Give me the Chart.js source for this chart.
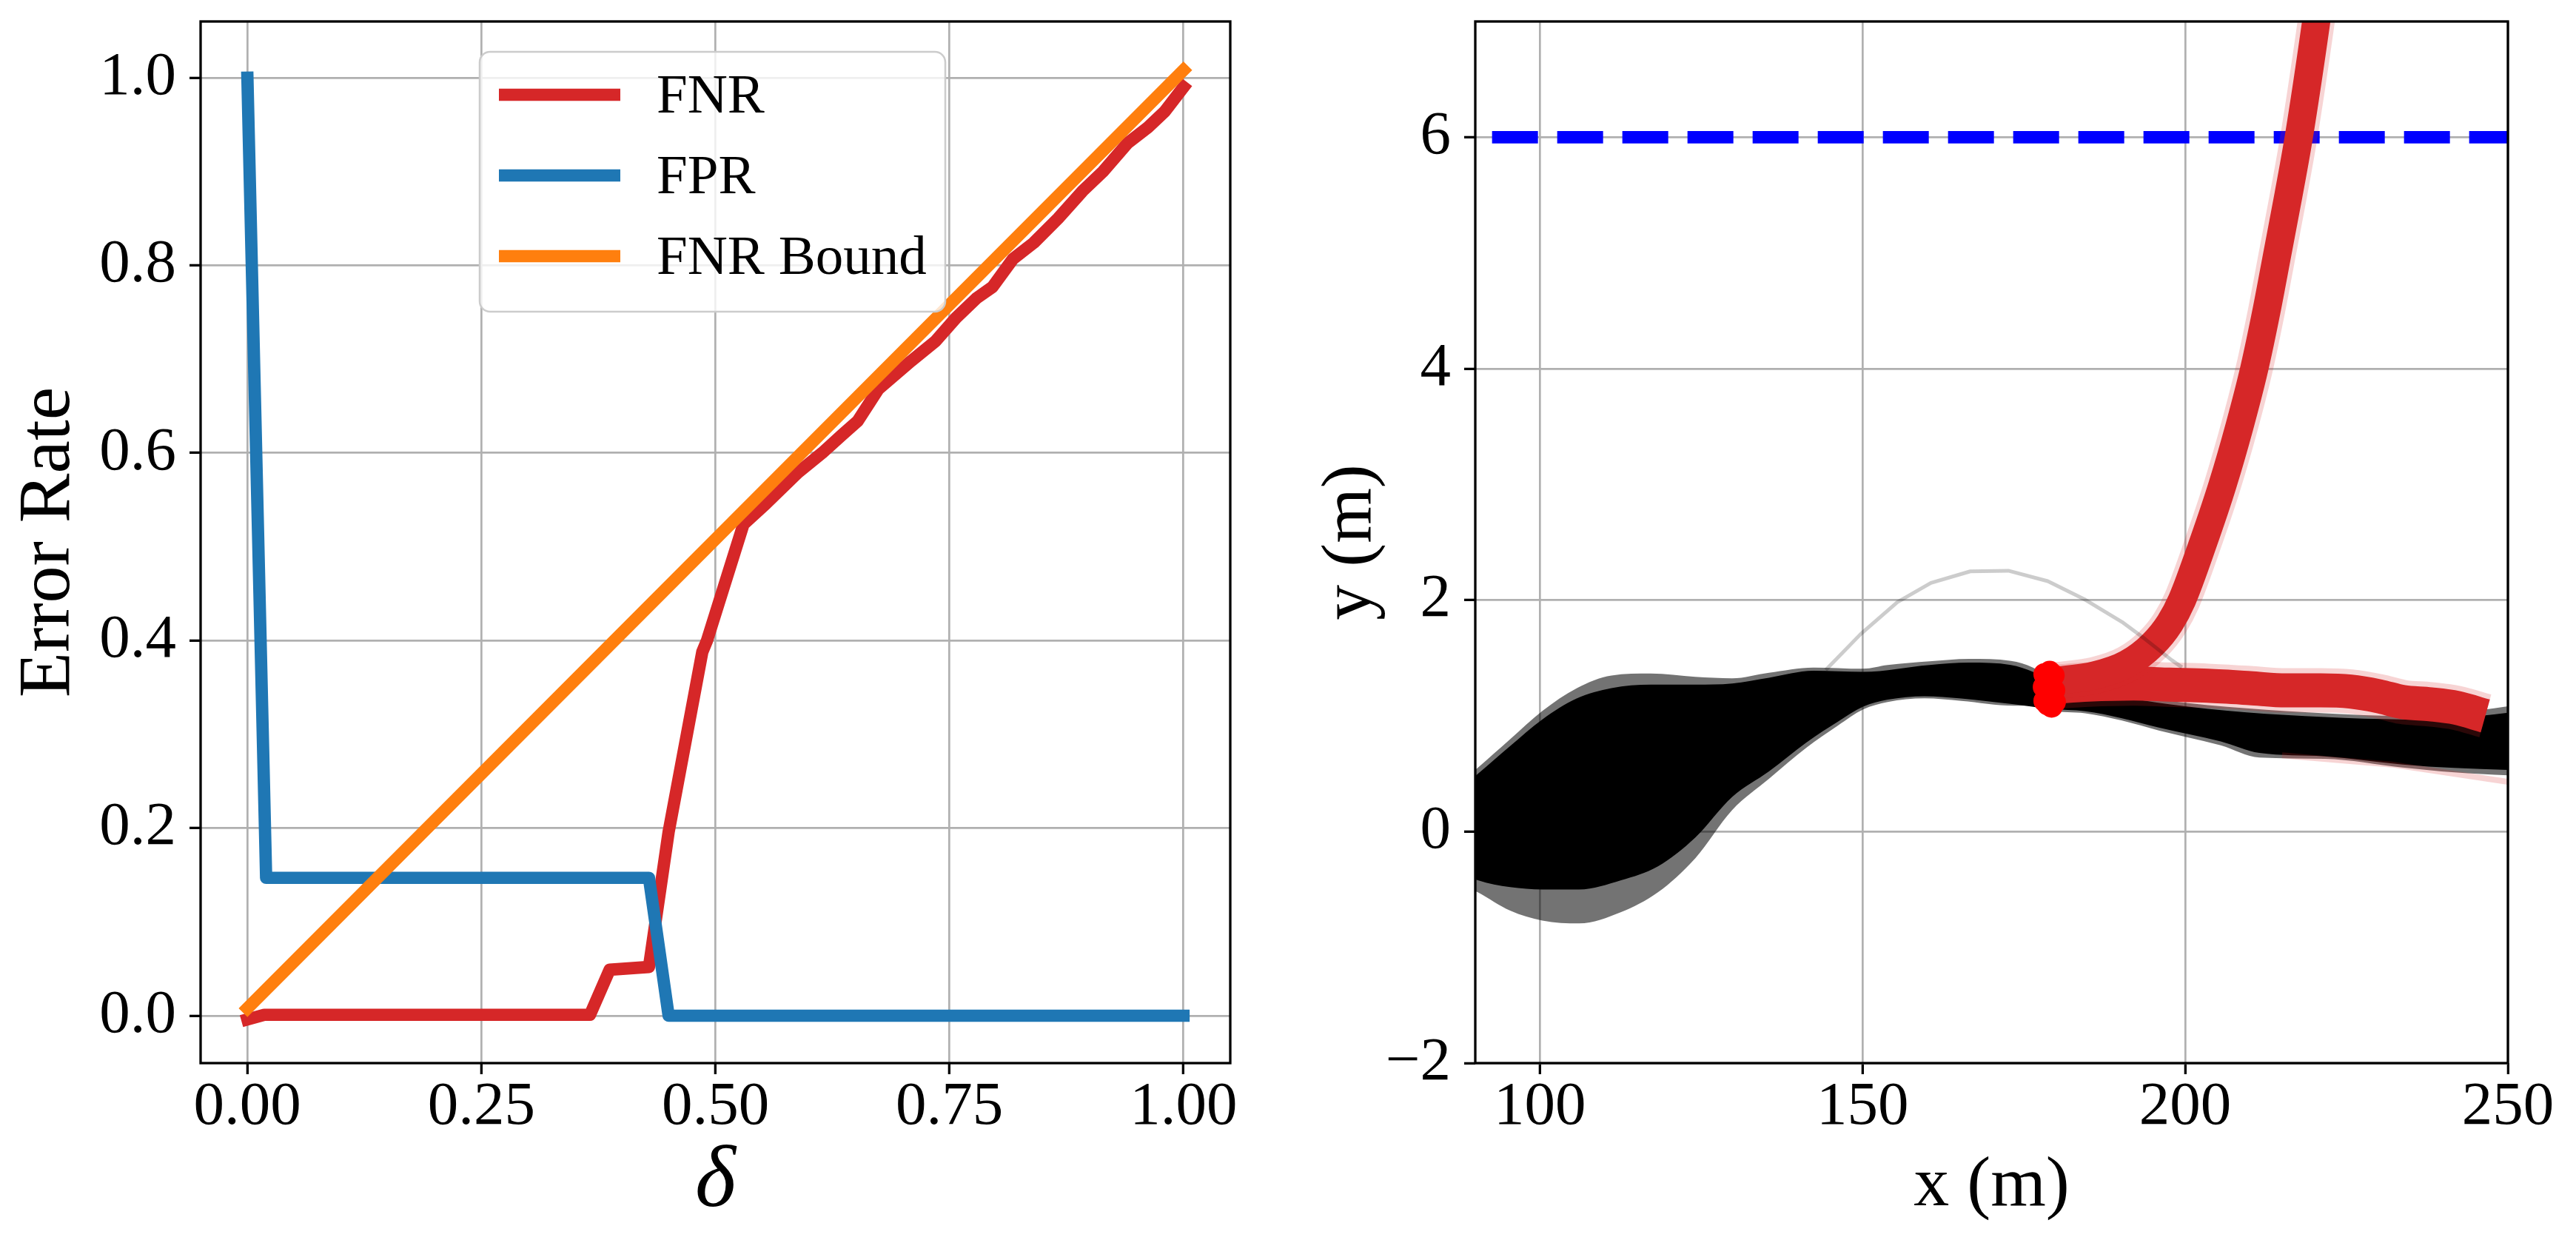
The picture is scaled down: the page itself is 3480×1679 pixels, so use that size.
<!DOCTYPE html>
<html>
<head>
<meta charset="utf-8">
<script src="https://cdn.jsdelivr.net/npm/chart.js@4.4.1/dist/chart.umd.min.js"></script>
<style>
html, body { margin: 0; padding: 0; background: #fff; }
#wrap { position: relative; width: 3480px; height: 1679px; overflow: hidden; }
canvas { position: absolute; top: 0; }
</style>
</head>
<body>
<div id="wrap">
  <canvas id="rates" width="1740" height="1679" style="left:0"></canvas>
  <canvas id="paths" width="1740" height="1679" style="left:1740px"></canvas>
</div>
<script>
// ---- left panel: error rate vs delta ----
var fnrDelta = [0, 0.018, 0.366, 0.387, 0.429, 0.450, 0.486, 0.491, 0.530, 0.554, 0.588, 0.614, 0.635, 0.652, 0.674, 0.709, 0.735, 0.757, 0.779, 0.796, 0.818, 0.840, 0.866, 0.892, 0.914, 0.940, 0.962, 0.980, 1.000];
var fnrRate  = [-0.004, 0.001, 0.001, 0.049, 0.052, 0.196, 0.388, 0.400, 0.524, 0.546, 0.579, 0.600, 0.619, 0.634, 0.668, 0.698, 0.719, 0.744, 0.765, 0.777, 0.807, 0.824, 0.850, 0.879, 0.900, 0.930, 0.947, 0.964, 0.990];
var fprDelta = [0, 0.02, 0.429, 0.45, 1.0];
var fprRate  = [1.0, 0.147, 0.147, 0.0, 0.0];
var boundDelta = [0, 1.0];
var boundRate  = [0.008, 1.008];
var deltaTicks = [0, 0.25, 0.5, 0.75, 1.0];
var deltaTickLabels = ['0.00', '0.25', '0.50', '0.75', '1.00'];
var rateTicks = [0, 0.2, 0.4, 0.6, 0.8, 1.0];
var rateTickLabels = ['0.0', '0.2', '0.4', '0.6', '0.8', '1.0'];

// ---- right panel: trajectories (m) ----
var xTicks = [100, 150, 200, 250];
var xTickLabels = ['100', '150', '200', '250'];
var yTicks = [-2, 0, 2, 4, 6];
var yTickLabels = ['\u22122', '0', '2', '4', '6'];

// edges of the black bundle (faint outer edge and dense core)
var bandTopX = [86, 90.4, 95.4, 100.4, 105.7, 111.1, 117.2, 124.1, 129.8, 135.5, 142.4, 150.1, 153.9, 160.4, 166.5, 173.0, 176.4, 179.0, 185.0, 190.0, 197.5, 209.5, 221.6, 233.7, 245.7, 252];
var bandTopY = [0.35, 0.553, 0.798, 1.043, 1.239, 1.349, 1.366, 1.337, 1.325, 1.373, 1.418, 1.407, 1.439, 1.471, 1.492, 1.475, 1.418, 1.33, 1.26, 1.20, 1.13, 1.066, 1.023, 1.0, 1.05, 1.1];
var bandBotX = [86, 90.4, 95.4, 100.4, 106.1, 112.6, 118.3, 124.1, 129.8, 135.5, 141.3, 146.2, 150.1, 153.9, 159.6, 165.3, 173.4, 176.4, 179.1, 184.5, 190.2, 195.9, 200.0, 205.5, 211.5, 221.6, 233.7, 241.7, 252];
var bandBotY = [-0.4, -0.524, -0.682, -0.768, -0.793, -0.695, -0.524, -0.229, 0.186, 0.456, 0.725, 0.917, 1.056, 1.12, 1.152, 1.13, 1.088, 1.088, 1.045, 1.023, 0.96, 0.874, 0.82, 0.746, 0.64, 0.629, 0.554, 0.512, 0.48];
var coreTopX = [86, 90.4, 95.4, 100.4, 105.7, 111.1, 117.2, 124.1, 129.8, 135.5, 142.4, 150.1, 160.4, 166.5, 173.0, 176.4, 179.0, 190.0, 197.5, 209.5, 221.6, 233.7, 245.7, 252];
var coreTopY = [0.3, 0.5, 0.74, 0.97, 1.15, 1.24, 1.27, 1.27, 1.28, 1.33, 1.39, 1.38, 1.44, 1.46, 1.44, 1.38, 1.30, 1.17, 1.10, 1.03, 0.99, 0.97, 1.0, 1.04];
var coreBotX = [86, 90.4, 95.4, 100.4, 106.1, 112.6, 118.3, 124.1, 129.8, 135.5, 141.3, 146.2, 150.1, 153.9, 159.6, 165.3, 173.4, 179.1, 184.5, 190.2, 195.9, 205.5, 211.5, 221.6, 233.7, 241.7, 252];
var coreBotY = [-0.3, -0.42, -0.48, -0.5, -0.5, -0.42, -0.3, -0.05, 0.3, 0.52, 0.77, 0.95, 1.08, 1.14, 1.17, 1.15, 1.10, 1.06, 1.04, 0.98, 0.90, 0.78, 0.68, 0.65, 0.58, 0.55, 0.53];

// red bundles after the switch point
var riseX = [179.5, 186, 191, 195, 197.6, 199.5, 202.8, 205.8, 208.4, 210.7, 212.6, 214.3, 216, 217.6, 220.3, 221.5];
var riseY = [1.3, 1.35, 1.45, 1.62, 1.8, 2.0, 2.5, 3.0, 3.5, 4.0, 4.5, 5.0, 5.5, 6.0, 7.0, 7.5];
var runX = [179.5, 185, 192, 197.5, 203.5, 210, 215.6, 221, 225.6, 230, 233.7, 238, 242, 246.5];
var runY = [1.25, 1.27, 1.28, 1.27, 1.26, 1.24, 1.22, 1.22, 1.21, 1.17, 1.12, 1.1, 1.07, 1.0];
var strayX = [215, 232, 250];
var strayY = [0.66, 0.58, 0.43];

// grey single path, switch points, lane line
var arcX = [144.3, 149.7, 155.4, 160.6, 166.7, 172.6, 178.7, 184.5, 190.2, 193.8, 197.9, 199.5];
var arcY = [1.396, 1.706, 1.983, 2.149, 2.249, 2.254, 2.164, 2.004, 1.812, 1.663, 1.482, 1.42];
var dotX = [178.2, 179.0, 179.6, 178.1, 179.7, 178.2, 179.3, 179.8, 178.9, 178.7];
var dotY = [1.36, 1.38, 1.35, 1.25, 1.22, 1.13, 1.08, 1.12, 1.2, 1.1];
var laneX = [92.6, 250];
var laneY = [6, 6];

var FONT = "'Liberation Serif', serif";

function pts(xs, ys) {
    return xs.map(function (x, i) { return { x: x, y: ys[i] }; });
}

// axis with fixed box size so the plot area lands where it should
function axis(min, max, ticks, labels, title, titleFont, titlePad, horizontal, size) {
    return {
        type: 'linear',
        min: min,
        max: max,
        afterBuildTicks: function (s) {
            s.ticks = ticks.map(function (v) { return { value: v }; });
        },
        afterFit: function (s) {
            if (horizontal) {
                s.height = size; s.paddingLeft = 0; s.paddingRight = 0;
            } else {
                s.width = size; s.paddingTop = 0; s.paddingBottom = 0;
            }
        },
        ticks: {
            autoSkip: false,
            maxRotation: 0,
            color: '#000',
            padding: horizontal ? 0 : 18,
            font: { family: FONT, size: 83, lineHeight: 1.1 },
            callback: function (v, i) { return labels[i]; }
        },
        grid: { color: '#b0b0b0', lineWidth: 2.7, tickColor: '#000', tickWidth: 3.3, tickLength: 15 },
        border: { display: false },
        title: { display: true, text: title, color: '#000', font: titleFont, padding: titlePad }
    };
}

var frame = {
    id: 'frame',
    afterDatasetsDraw: function (chart) {
        var a = chart.chartArea, ctx = chart.ctx;
        ctx.save();
        ctx.strokeStyle = '#000';
        ctx.lineWidth = 3.3;
        ctx.strokeRect(a.left, a.top, a.right - a.left, a.bottom - a.top);
        ctx.restore();
    }
};

// legend box in the upper middle of the left panel
var boxLegend = {
    id: 'boxLegend',
    afterDraw: function (chart) {
        var ctx = chart.ctx;
        ctx.save();
        ctx.beginPath();
        ctx.roundRect(648, 70, 629, 351, 14);
        ctx.fillStyle = 'rgba(255,255,255,0.8)';
        ctx.fill();
        ctx.strokeStyle = '#cccccc';
        ctx.lineWidth = 2.5;
        ctx.stroke();
        ctx.font = '75px ' + FONT;
        ctx.textBaseline = 'middle';
        chart.data.datasets.forEach(function (ds, i) {
            var y = 128 + i * 109;
            ctx.beginPath();
            ctx.moveTo(674, y);
            ctx.lineTo(838, y);
            ctx.strokeStyle = ds.borderColor;
            ctx.lineWidth = ds.borderWidth;
            ctx.lineCap = 'butt';
            ctx.stroke();
            ctx.fillStyle = '#000';
            ctx.fillText(ds.label, 887, y + 4);
        });
        ctx.restore();
    }
};

new Chart(document.getElementById('rates'), {
    type: 'line',
    data: {
        datasets: [
            { label: 'FNR', data: pts(fnrDelta, fnrRate), borderColor: '#d62728', borderWidth: 16.7, order: 3 },
            { label: 'FPR', data: pts(fprDelta, fprRate), borderColor: '#1f77b4', borderWidth: 16.7, order: 2 },
            { label: 'FNR Bound', data: pts(boundDelta, boundRate), borderColor: '#ff7f0e', borderWidth: 16.7, order: 1 }
        ]
    },
    options: {
        responsive: false,
        animation: false,
        events: [],
        devicePixelRatio: 1,
        layout: { padding: { top: 29, right: 78, left: 0, bottom: 0 } },
        elements: {
            point: { radius: 0 },
            line: { tension: 0, borderCapStyle: 'square', borderJoinStyle: 'round', fill: false }
        },
        plugins: { legend: { display: false }, tooltip: { enabled: false } },
        scales: {
            x: axis(-0.05, 1.05, deltaTicks, deltaTickLabels, '\u03b4',
                { family: FONT, size: 118, style: 'italic' }, { top: 0, bottom: 10 }, true, 243),
            y: axis(-0.0505, 1.06, rateTicks, rateTickLabels, 'Error Rate',
                { family: FONT, size: 100 }, { top: 7, bottom: 0 }, false, 271)
        }
    },
    plugins: [frame, boxLegend]
});

function edge(xs, ys, fillTo, color, order) {
    return {
        data: pts(xs, ys), borderWidth: 0, borderColor: 'transparent',
        backgroundColor: color, fill: fillTo, order: order,
        cubicInterpolationMode: 'monotone'
    };
}

new Chart(document.getElementById('paths'), {
    type: 'line',
    data: {
        datasets: [
            { data: pts(dotX, dotY), showLine: false, pointRadius: 15, pointBackgroundColor: '#ff0000', pointBorderWidth: 0, order: 0 },
            { data: pts(arcX, arcY), borderColor: 'rgba(0,0,0,0.2)', borderWidth: 5, order: 1 },
            { data: pts(riseX, riseY), borderColor: '#d62728', borderWidth: 38, cubicInterpolationMode: 'monotone', order: 2 },
            { data: pts(riseX, riseY), borderColor: 'rgba(214,39,40,0.2)', borderWidth: 50, cubicInterpolationMode: 'monotone', order: 3 },
            { data: pts(runX, runY), borderColor: '#d62728', borderWidth: 46, cubicInterpolationMode: 'monotone', order: 4 },
            { data: pts(runX, runY), borderColor: 'rgba(214,39,40,0.2)', borderWidth: 60, cubicInterpolationMode: 'monotone', order: 5 },
            { data: pts(strayX, strayY), borderColor: 'rgba(214,39,40,0.2)', borderWidth: 8, order: 6 },
            { data: pts(laneX, laneY), borderColor: '#0000ff', borderWidth: 16.7, borderDash: [62, 26], borderCapStyle: 'butt', order: 7 },
            edge(coreTopX, coreTopY, '+1', '#000000', 8),
            edge(coreBotX, coreBotY, false, 'transparent', 8),
            edge(bandTopX, bandTopY, '+1', 'rgba(0,0,0,0.55)', 9),
            edge(bandBotX, bandBotY, false, 'transparent', 9)
        ]
    },
    options: {
        responsive: false,
        animation: false,
        events: [],
        devicePixelRatio: 1,
        layout: { padding: { top: 29, right: 92, left: 0, bottom: 0 } },
        elements: {
            point: { radius: 0 },
            line: { tension: 0, borderCapStyle: 'butt', borderJoinStyle: 'round', fill: false }
        },
        plugins: { legend: { display: false }, tooltip: { enabled: false } },
        scales: {
            x: axis(90, 250, xTicks, xTickLabels, 'x (m)',
                { family: FONT, size: 96 }, { top: 0, bottom: 19 }, true, 243),
            y: axis(-2, 7, yTicks, yTickLabels, 'y (m)',
                { family: FONT, size: 96 }, { top: 28, bottom: 0 }, false, 253)
        }
    },
    plugins: [frame]
});
</script>
</body>
</html>
